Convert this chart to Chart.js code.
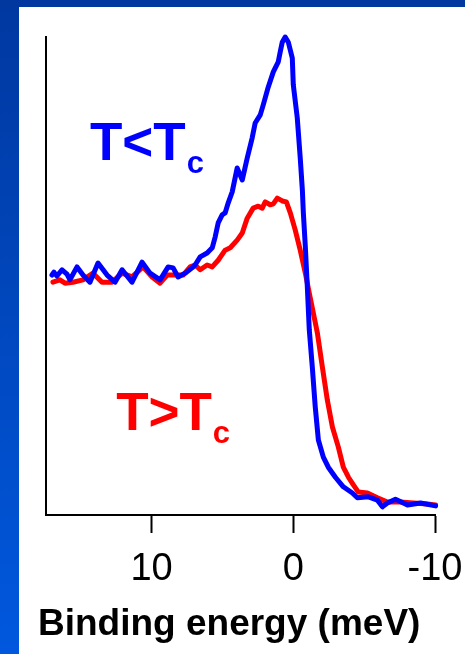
<!DOCTYPE html>
<html>
<head>
<meta charset="utf-8">
<script src="https://cdn.jsdelivr.net/npm/chart.js@4/dist/chart.umd.min.js"></script>
<style>
    html, body {
        margin: 0;
        padding: 0;
        width: 465px;
        height: 654px;
        overflow: hidden;
        background: linear-gradient(to bottom, #0038a0, #0058de);
    }
    #panel {
        position: absolute;
        left: 19px;
        top: 7px;
        width: 446px;
        height: 647px;
        background: #ffffff;
    }
    #wrap {
        position: absolute;
        left: 0;
        top: 0;
        width: 465px;
        height: 654px;
    }
</style>
</head>
<body>
<div id="panel"></div>
<div id="wrap"><canvas id="spectra"></canvas></div>
<script>
// superconducting state (T < Tc)
const blueEnergy = [17.03, 16.89, 16.68, 16.32, 15.97, 15.76, 15.26, 14.84, 14.35, 13.78,
    13.14, 12.58, 12.08, 11.38, 10.67, 10.11, 9.40, 8.83, 8.48, 8.13,
    7.63, 7.14, 6.93, 6.57, 6.08, 5.72, 5.51, 5.30, 5.02, 4.81,
    4.59, 4.31, 3.96, 3.60, 3.25, 2.90, 2.69, 2.33, 2.12, 1.77,
    1.41, 1.06, 0.92, 0.78, 0.57, 0.35, 0.07, 0.00, -0.28, -0.49,
    -0.64, -0.71, -0.85, -0.99, -1.13, -1.34, -1.55, -1.77, -2.12, -2.47,
    -2.97, -3.53, -4.17, -4.52, -5.30, -5.94, -6.29, -6.64, -7.21, -8.06,
    -8.98, -10.04];
const blueIntensity = [50.2, 50.8, 50.0, 51.3, 50.4, 49.2, 51.9, 50.2, 48.7, 52.7,
    50.2, 48.7, 51.3, 48.7, 52.9, 50.6, 49.2, 51.9, 51.7, 49.8,
    50.6, 51.7, 52.3, 54.0, 54.8, 55.9, 58.2, 61.1, 62.8, 63.2,
    65.3, 67.6, 72.6, 70.1, 74.7, 78.9, 82.0, 83.7, 85.8, 89.5,
    92.7, 94.8, 96.9, 98.9, 100.0, 98.9, 95.6, 90.0, 83.1, 74.7,
    68.0, 63.2, 56.1, 47.7, 38.7, 31.0, 22.6, 15.7, 12.1, 10.0,
    7.9, 5.9, 4.6, 3.6, 3.8, 3.1, 1.7, 2.5, 3.3, 2.1,
    2.5, 1.9];

// normal state (T > Tc)
const redEnergy = [16.96, 16.47, 16.11, 15.55, 14.84, 14.13, 13.50, 12.79, 12.08, 11.38,
    10.60, 9.96, 9.40, 8.90, 8.20, 7.77, 7.28, 6.93, 6.57, 6.08,
    5.72, 5.30, 4.81, 4.45, 3.96, 3.60, 3.25, 2.83, 2.47, 2.19,
    1.98, 1.63, 1.41, 1.13, 0.78, 0.49, 0.21, -0.14, -0.49, -0.85,
    -1.13, -1.41, -1.70, -2.05, -2.40, -2.76, -3.18, -3.53, -3.89, -4.24,
    -4.59, -5.23, -5.94, -6.64, -7.56, -8.48, -9.47, -10.04];
const redIntensity = [48.7, 49.2, 48.5, 48.7, 49.2, 50.6, 48.7, 48.7, 50.6, 49.8,
    51.9, 49.8, 48.5, 50.2, 50.2, 50.2, 51.9, 52.3, 51.3, 52.3,
    51.9, 53.3, 55.4, 55.9, 57.5, 59.0, 62.1, 64.2, 64.6, 64.2,
    65.5, 64.9, 65.1, 66.3, 65.7, 65.5, 63.2, 59.6, 55.4, 50.6,
    46.4, 42.3, 38.1, 31.0, 24.1, 18.4, 14.2, 10.0, 7.9, 6.3,
    4.8, 4.6, 3.6, 2.7, 2.7, 2.5, 2.3, 2.1];

const xTickValues = [10, 0, -10];
const xTitle = 'Binding energy (meV)';

const FONT = '"Liberation Sans", Arial, Helvetica, sans-serif';

function toPoints(xs, ys) {
    return xs.map((x, i) => ({ x: x, y: ys[i] }));
}

// T<Tc / T>Tc labels with subscript c (anchored in data coordinates)
// plus the x axis title, set a little left of the plot area
const chartText = {
    id: 'chartText',
    afterDatasetsDraw(chart) {
        const ctx = chart.ctx;
        const xs = chart.scales.x;
        const ys = chart.scales.y;
        const items = [
            { text: 'T<T', color: '#0000ff', x: 14.35, y: 74.3 },
            { text: 'T>T', color: '#ff0000', x: 12.5, y: 17.8 }
        ];
        ctx.save();
        ctx.textAlign = 'left';
        ctx.textBaseline = 'alphabetic';
        items.forEach(item => {
            const px = xs.getPixelForValue(item.x);
            const py = ys.getPixelForValue(item.y);
            ctx.fillStyle = item.color;
            ctx.font = 'bold 53px ' + FONT;
            ctx.fillText(item.text, px, py);
            const w = ctx.measureText(item.text).width;
            ctx.font = 'bold 31px ' + FONT;
            ctx.fillText('c', px + w + 1, py + 13);
        });

        ctx.fillStyle = '#000';
        ctx.font = 'bold 37px ' + FONT;
        ctx.fillText(xTitle, chart.chartArea.left - 8, xs.bottom - 19);
        ctx.restore();
    }
};

document.addEventListener("DOMContentLoaded", function () {
    var ctx = document.getElementById('spectra').getContext('2d');

    var chartData = {
        datasets: [{
            label: 'T<Tc',
            data: toPoints(blueEnergy, blueIntensity),
            borderColor: '#0000ff',
            borderWidth: 5,
            pointRadius: 0,
            tension: 0,
            borderJoinStyle: 'round',
            borderCapStyle: 'round',
            clip: false
        }, {
            label: 'T>Tc',
            data: toPoints(redEnergy, redIntensity),
            borderColor: '#ff0000',
            borderWidth: 5,
            pointRadius: 0,
            tension: 0,
            borderJoinStyle: 'round',
            borderCapStyle: 'round',
            clip: false
        }]
    };

    var options = {
        responsive: true,
        maintainAspectRatio: false,
        animation: false,
        layout: {
            padding: { left: 46, top: 37, right: 30, bottom: 0 }
        },
        plugins: {
            legend: { display: false },
            tooltip: { enabled: false }
        },
        scales: {
            x: {
                type: 'linear',
                min: -10,
                max: 17.45,
                reverse: true,
                afterBuildTicks: function (scale) {
                    scale.ticks = xTickValues.map(v => ({ value: v }));
                },
                afterFit: function (scale) {
                    scale.height = 139;
                    scale.paddingLeft = 0;
                    scale.paddingRight = 0;
                },
                border: { display: true, color: '#000', width: 2 },
                grid: {
                    display: true,
                    drawOnChartArea: false,
                    drawTicks: true,
                    tickLength: 18,
                    tickColor: '#000',
                    tickWidth: 2
                },
                ticks: {
                    color: '#000',
                    padding: 14,
                    maxRotation: 0,
                    font: { family: FONT, size: 38 }
                }
            },
            y: {
                type: 'linear',
                min: 0,
                max: 100,
                afterFit: function (scale) {
                    scale.width = 0;
                    scale.paddingTop = 0;
                    scale.paddingBottom = 0;
                },
                border: { display: true, color: '#000', width: 2 },
                grid: { display: false },
                ticks: { display: false }
            }
        }
    };

    new Chart(ctx, {
        type: 'line',
        data: chartData,
        options: options,
        plugins: [chartText]
    });
});
</script>
</body>
</html>
